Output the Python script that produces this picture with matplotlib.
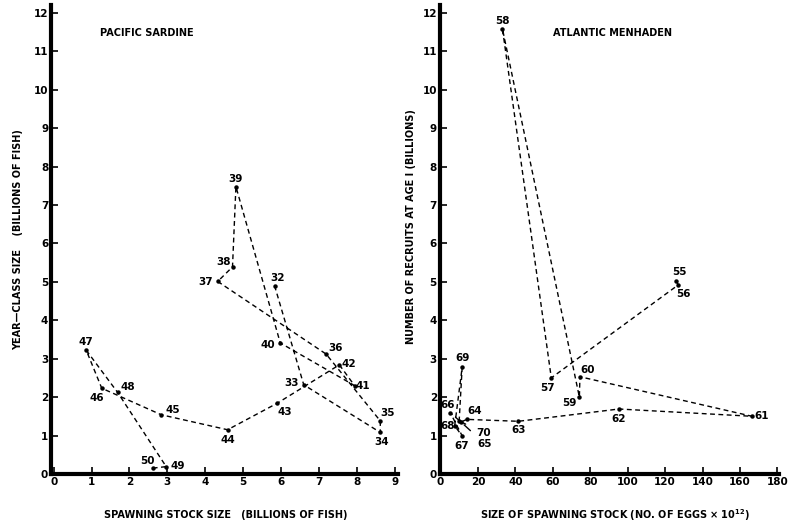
import matplotlib.pyplot as plt

# Pacific sardine: spawning stock (billions of fish) vs year-class size
sardine_years = ['32', '33', '34', '35', '36', '37', '38', '39', '40', '41',
                 '42', '43', '44', '45', '46', '47', '48', '49', '50']
sardine_stock = [5.83, 6.6, 8.62, 8.62, 7.19, 4.33, 4.72, 4.81, 5.98, 7.94,
                 7.54, 5.9, 4.59, 2.84, 1.27, 0.86, 1.69, 2.97, 2.61]
sardine_recruits = [4.9, 2.32, 1.08, 1.38, 3.12, 5.01, 5.39, 7.48, 3.41, 2.3,
                    2.84, 1.84, 1.15, 1.54, 2.23, 3.22, 2.12, 0.19, 0.15]

# Atlantic menhaden: eggs (x10^12) vs recruits at age 1 (billions)
menhaden_years = ['55', '56', '57', '58', '59', '60', '61', '62', '63', '64',
                  '65', '66', '67', '68', '69', '70']
menhaden_eggs = [126, 127, 59.2, 33.1, 74.2, 74.5, 166.5, 95.3, 41.6, 14,
                 11, 5.3, 11.6, 7.6, 11.6, 10]
menhaden_recruits = [5.02, 4.92, 2.5, 11.59, 2.0, 2.53, 1.5, 1.69, 1.37, 1.42,
                     1.35, 1.59, 0.99, 1.25, 2.78, 1.38]

# label offsets in pixels (layout only)
sardine_off = [(3, 8), (-12, 2), (1, -10), (7, 8), (9, 6), (-12, -1), (-9, 5),
               (0, 8), (-12, -2), (8, 0), (9, 1), (8, -9), (0, -10), (12, 5),
               (-5, -10), (0, 8), (10, 5), (12, 1), (-5, 7)]
menhaden_off = [(3, 9), (5, -9), (-4, -10), (0, 8), (-10, -6), (8, 7), (9, 0),
                (0, -10), (0, -9), (8, 8), (24, -22), (-3, 8), (0, -10),
                (-7, 0), (0, 9), (24, -12)]

plt.rcParams['font.family'] = 'DejaVu Sans'
plt.rcParams['font.weight'] = 'bold'

fig = plt.figure(figsize=(7.88, 5.26), dpi=100)
ax1 = fig.add_axes([0.0647, 0.099, 0.441, 0.891])
ax2 = fig.add_axes([0.558, 0.099, 0.431, 0.891])

def style(ax):
    for s in ['top', 'right']:
        ax.spines[s].set_visible(False)
    for s in ['left', 'bottom']:
        ax.spines[s].set_linewidth(3)
    ax.tick_params(direction='in', length=5, width=1.2, labelsize=7.5, pad=2)
    for t in ax.get_xticklabels() + ax.get_yticklabels():
        t.set_fontweight('bold')
    ax.set_ylim(0, 12.2)
    ax.set_yticks(range(0, 13))

def draw(ax, xs, ys, labels, offs, leaders=()):
    ax.plot(xs, ys, color='black', lw=1, ls=(0, (3.5, 2.5)), marker='o', ms=2.2)
    for x, y, lab, (dx, dy) in zip(xs, ys, labels, offs):
        if lab in leaders:
            ax.annotate(lab, (x, y), xytext=(dx, dy), textcoords='offset pixels',
                        ha='center', va='center', fontsize=7.5, fontweight='bold',
                        arrowprops=dict(arrowstyle='-', lw=1, color='black',
                                        shrinkA=6, shrinkB=3))
        else:
            ax.annotate(lab, (x, y), xytext=(dx, dy), textcoords='offset pixels',
                        ha='center', va='center', fontsize=7.5, fontweight='bold')

style(ax1)
ax1.set_xlim(-0.07, 9.1)
ax1.set_xticks(range(0, 10))
draw(ax1, sardine_stock, sardine_recruits, sardine_years, sardine_off)
ax1.text(0.14, 0.935, 'PACIFIC SARDINE', transform=ax1.transAxes,
         fontsize=7, fontweight='bold')

style(ax2)
ax2.set_xlim(-0.4, 181)
ax2.set_xticks(range(0, 181, 20))
draw(ax2, menhaden_eggs, menhaden_recruits, menhaden_years, menhaden_off,
     leaders=('65', '70'))
ax2.text(0.335, 0.935, 'ATLANTIC MENHADEN', transform=ax2.transAxes,
         fontsize=7, fontweight='bold')

fig.text(0.286, 0.021, 'SPAWNING STOCK SIZE   (BILLIONS OF FISH)',
         ha='center', va='center', fontsize=7, fontweight='bold')
fig.text(0.78, 0.021, 'SIZE OF SPAWNING STOCK (NO. OF EGGS \u00d7 10$^{12}$)',
         ha='center', va='center', fontsize=7, fontweight='bold')
fig.text(0.023, 0.544, 'YEAR\u2014CLASS SIZE    (BILLIONS OF FISH)', rotation=90,
         ha='center', va='center', fontsize=7, fontweight='bold')
fig.text(0.521, 0.57, 'NUMBER OF RECRUITS AT AGE I (BILLIONS)', rotation=90,
         ha='center', va='center', fontsize=7, fontweight='bold')

fig.savefig('out.png', dpi=100)
